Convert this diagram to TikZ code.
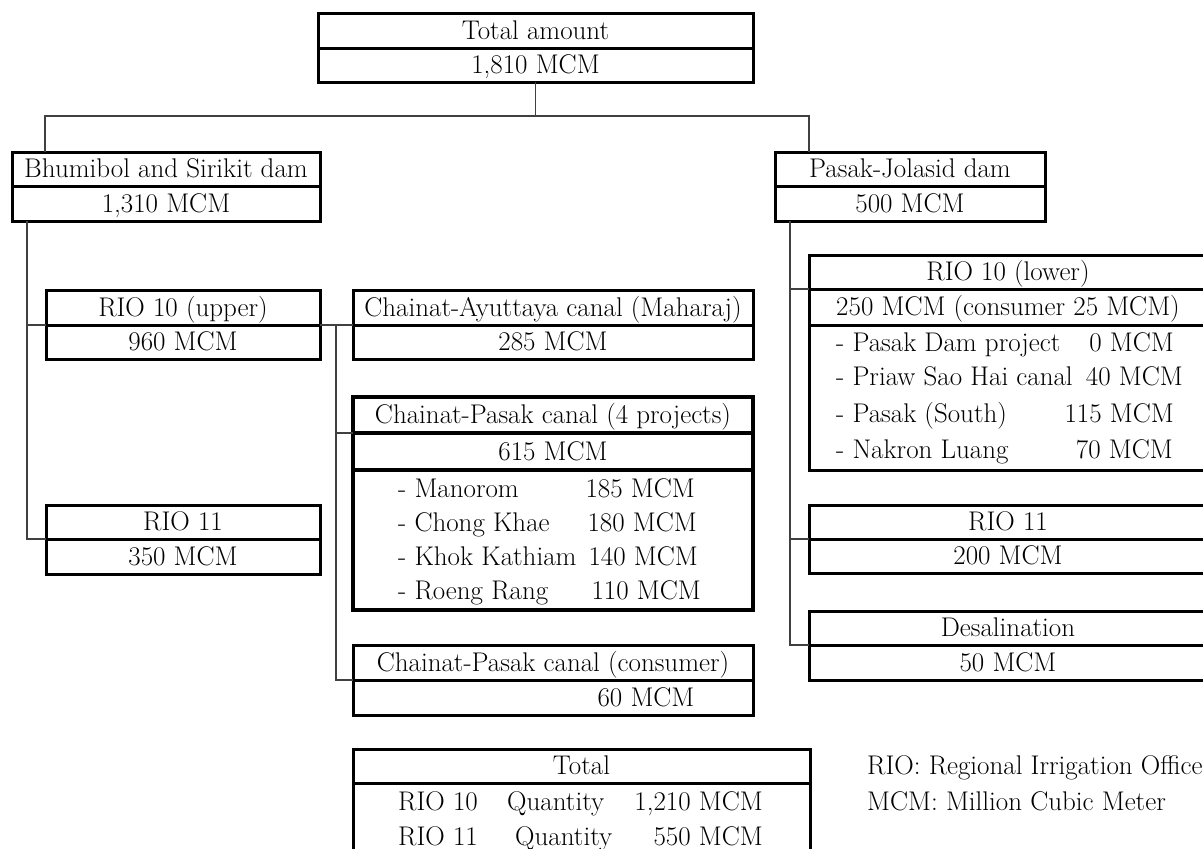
\documentclass[tikz,border=0pt]{standalone}
\usepackage{fontspec}
\usepackage{tikz}
\usetikzlibrary{positioning,calc}

\begin{document}
\begin{tikzpicture}[
  x=1pt, y=-1pt,
  font=\fontsize{27}{32}\selectfont,
  cell/.style={draw, line width=3pt, inner sep=0pt, outer sep=0pt, minimum height=34.5pt, text height=20.5pt, text depth=3pt, align=center},
  thickcell/.style={cell, line width=4.5pt},
  entry/.style={inner sep=0pt, anchor=base west},
  amount/.style={inner sep=0pt, anchor=base east},
  link/.style={draw=black!75, line width=1.2pt},
]
\useasboundingbox (0,0) rectangle (1203,849);
\clip (0,0) rectangle (1203,849);

\node[cell, anchor=north west, minimum width=435pt, minimum height=35pt] (tot) at (318,13) {Total amount};
\node[cell, minimum width=435pt, minimum height=34pt, below=0pt of tot] (totv) {1,810 MCM};

\node[cell, anchor=north west, minimum width=308pt, minimum height=34pt] (bhu) at (12,152) {Bhumibol and Sirikit dam};
\node[cell, minimum width=308pt, minimum height=35pt, below=0pt of bhu] (bhuv) {1,310 MCM};
\node[cell, anchor=north west, minimum width=270pt, minimum height=34pt] (pjd) at (775,152) {Pasak-Jolasid dam};
\node[cell, minimum width=270pt, minimum height=35pt, below=0pt of pjd] (pjdv) {500 MCM};

\node[cell, anchor=north west, minimum width=274pt, minimum height=35pt] (r10u) at (46,290) {RIO 10 (upper)};
\node[cell, minimum width=274pt, minimum height=34pt, below=0pt of r10u] (r10uv) {960 MCM};
\node[cell, anchor=north west, minimum width=274pt, minimum height=34pt] (r11l) at (46,505) {RIO 11};
\node[cell, minimum width=274pt, minimum height=35pt, below=0pt of r11l] (r11lv) {350 MCM};

\node[cell, anchor=north west, minimum width=400pt, minimum height=35pt] (cay) at (353,290) {Chainat-Ayuttaya canal (Maharaj)};
\node[cell, minimum width=400pt, minimum height=34pt, below=0pt of cay] (cayv) {285 MCM};
\node[thickcell, anchor=north west, minimum width=400pt, minimum height=36pt] (cp4) at (353,397) {Chainat-Pasak canal (4 projects)};
\node[thickcell, minimum width=400pt, minimum height=37pt, below=0pt of cp4] (cp4v) {615 MCM};
\node[thickcell, minimum width=400pt, minimum height=140pt, below=0pt of cp4v] (cp4l) {};
\node[cell, anchor=north west, minimum width=400pt, minimum height=35pt] (cpc) at (353,645) {Chainat-Pasak canal (consumer)};
\node[cell, minimum width=400pt, minimum height=35pt, below=0pt of cpc] (cpcv) {\hspace*{186pt}60 MCM};

\node[entry] (man) at ($(cp4l.north west)+(45,27)$) {- Manorom};
\node[entry] (cho) at ($(cp4l.north west)+(45,61)$) {- Chong Khae};
\node[entry] (kho) at ($(cp4l.north west)+(45,95)$) {- Khok Kathiam};
\node[entry] (roe) at ($(cp4l.north west)+(45,129)$) {- Roeng Rang};
\node[amount] (manv) at ($(cp4l.north west)+(342,27)$) {185 MCM};
\node[amount] (chov) at ($(cp4l.north west)+(344,61)$) {180 MCM};
\node[amount] (khov) at ($(cp4l.north west)+(345,95)$) {140 MCM};
\node[amount] (roev) at ($(cp4l.north west)+(348,129)$) {110 MCM};

\node[cell, anchor=north west, minimum width=398pt, minimum height=34pt] (rl) at (809,255) {RIO 10 (lower)};
\node[cell, minimum width=398pt, minimum height=36pt, below=0pt of rl] (rlv) {250 MCM (consumer 25 MCM)};
\node[cell, minimum width=398pt, minimum height=145pt, below=0pt of rlv] (rll) {};
\node[cell, anchor=north west, minimum width=398pt, minimum height=34pt] (r11r) at (809,505) {RIO 11};
\node[cell, minimum width=398pt, minimum height=34pt, below=0pt of r11r] (r11rv) {200 MCM};
\node[cell, anchor=north west, minimum width=398pt, minimum height=34pt] (des) at (809,611) {Desalination};
\node[cell, minimum width=398pt, minimum height=35pt, below=0pt of des] (desv) {50 MCM};

\node[entry] (pdp) at ($(rll.north west)+(27,26)$) {- Pasak Dam project};
\node[entry] (psh) at ($(rll.north west)+(27,60)$) {- Priaw Sao Hai canal};
\node[entry] (pso) at ($(rll.north west)+(27,97)$) {- Pasak (South)};
\node[entry] (nak) at ($(rll.north west)+(27,133)$) {- Nakron Luang};
\node[amount] (pdpv) at ($(rll.north west)+(365,26)$) {0 MCM};
\node[amount] (pshv) at ($(rll.north west)+(374,60)$) {40 MCM};
\node[amount] (psov) at ($(rll.north west)+(365,97)$) {115 MCM};
\node[amount] (nakv) at ($(rll.north west)+(364,133)$) {70 MCM};

\node[cell, anchor=north west, minimum width=457pt, minimum height=34pt] (sum) at (353,749) {Total};
\node[cell, minimum width=457pt, minimum height=100pt, below=0pt of sum] (suml) {};
\node[entry] (s10) at ($(suml.north west)+(45,27)$) {RIO 10};
\node[entry] (s10q) at ($(suml.north west)+(154,27)$) {Quantity};
\node[amount] (s10v) at ($(suml.north west)+(410,27)$) {1,210 MCM};
\node[entry] (s11) at ($(suml.north west)+(45,62)$) {RIO 11};
\node[entry] (s11q) at ($(suml.north west)+(162,62)$) {Quantity};
\node[amount] (s11v) at ($(suml.north west)+(410,62)$) {550 MCM};

\node[entry] (leg1) at (867,774) {RIO: Regional Irrigation Office};
\node[entry] (leg2) at (867,810) {MCM: Million Cubic Meter};

\draw[link] (totv.south) -- ++(0,34) coordinate (bus) -| ([xshift=33pt]bhu.north west);
\draw[link] (bus) -| ([xshift=34pt]pjd.north west);
\draw[link] ([xshift=15pt]bhuv.south west) |- (r10uv.north west);
\draw[link] ([xshift=15pt]bhuv.south west) |- (r11lv.north west);
\draw[link] (r10uv.north east) -- (cayv.north west);
\draw[link] ([xshift=16pt]r10uv.north east) |- (cp4v.north west);
\draw[link] ([xshift=16pt]r10uv.north east) |- (cpcv.north west);
\draw[link] ([xshift=15pt]pjdv.south west) |- (rlv.north west);
\draw[link] ([xshift=15pt]pjdv.south west) |- (r11rv.north west);
\draw[link] ([xshift=15pt]pjdv.south west) |- (desv.north west);
\end{tikzpicture}
\end{document}
